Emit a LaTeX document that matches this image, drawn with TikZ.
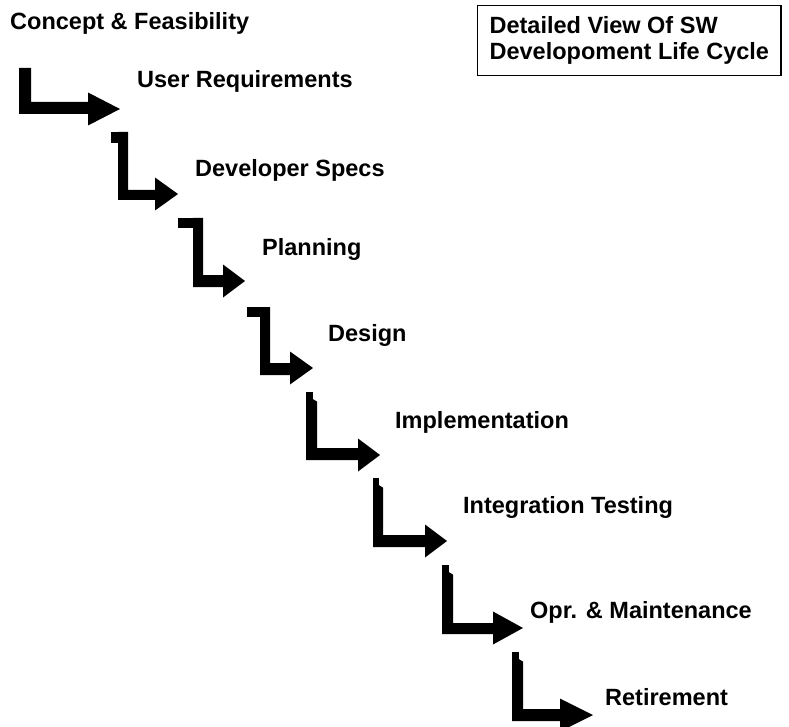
\documentclass[tikz,border=0pt]{standalone}
\usepackage{fontspec}
\setmainfont{Liberation Sans}

\tikzset{
	stage/.style={anchor=base west, inner sep=0pt, font=\fontsize{23.5}{26}\selectfont\bfseries},
	titlebox/.style={draw, line width=1.2pt, anchor=north west, align=left, inner xsep=12pt, inner ysep=11pt, font=\fontsize{23.5}{26}\selectfont\bfseries}
}

\begin{document}
\begin{tikzpicture}[x=1pt, y=-1pt]
	\useasboundingbox (0,0) rectangle (789,727);
	% title box
	\node[titlebox] (title) at (477,5) {Detailed View Of SW\\Developoment Life Cycle};
	% stage labels
	\node[stage] (concept) at (10,30) {Concept \& Feasibility};
	\node[stage] (userreq) at (137,88) {User Requirements};
	\node[stage] (devspecs) at (195,177) {Developer Specs};
	\node[stage] (planning) at (262,255) {Planning};
	\node[stage] (design) at (328,341) {Design};
	\node[stage] (implem) at (395,428) {Implementation};
	\node[stage] (integ) at (463,513) {Integration Testing};
	\node[stage] (opr) at (530,618) {Opr. \& Maintenance};
	\node[stage] (retire) at (605,705) {Retirement};
	% bent arrows: bar \xl..\xr from \yt down, foot \ya..\yb, head base \xh, tip (\xt,\yc)
	\foreach \xl/\xr/\yt/\ya/\yb/\xh/\xt/\yc in {
		19/31/68/102/114/88/120/109,
		118/128/132/190/200/155/178/194,
		193/203/218/275/287/223/245/281,
		260/270/307/363/375/290/313/368,
		306/317/392/448/460/358/380/455,
		373/383/478/535/547/425/447/541,
		442/453/565/623/634/493/523/628,
		512/523/652/709/721/560/593/715} {
		\fill (\xl,\yt) -- (\xr,\yt) -- (\xr,\ya) -- (\xh,\ya) -- ({\xh},{\yc-16.5}) -- (\xt,\yc)
			-- ({\xh},{\yc+16.5}) -- (\xh,\yb) -- (\xl,\yb) -- cycle;
	}
	% flags on top of the upper arrows
	\foreach \xf/\xl/\yt/\yf in {111/118/132/143, 178/193/218/228, 247/260/307/317}
		\fill (\xf,\yt) rectangle (\xl,\yf);
	% notches on top of the lower arrows
	\foreach \xr/\yt in {317/392, 383/478, 453/565, 523/652}
		\fill[white] ({\xr-4},{\yt-1}) -- ({\xr+1},{\yt-1}) -- ({\xr+1},{\yt+10}) -- ({\xr-4},{\yt+7}) -- cycle;
\end{tikzpicture}
\end{document}
